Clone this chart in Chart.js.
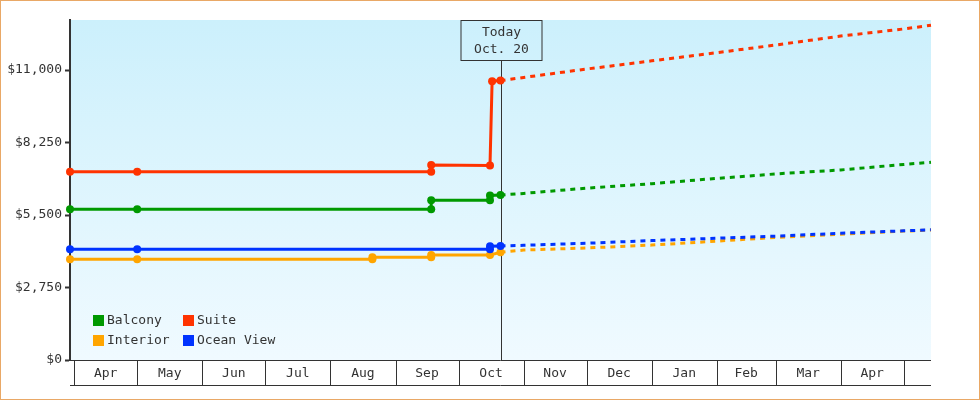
<!DOCTYPE html>
<html><head><meta charset="utf-8">
<script src="https://cdn.jsdelivr.net/npm/chart.js@4.4.1/dist/chart.umd.min.js"></script>
<style>
html,body{margin:0;padding:0;background:#fff;}
#wrap{width:980px;height:400px;box-sizing:border-box;border:1px solid #e9a866;background:#fff;}
canvas{display:block;}
</style></head><body>
<div id="wrap"><canvas id="c" width="978" height="398"></canvas></div>
<script>
// ---- Data (x = day number, day 0 = Apr 1) ----
const MONTH_LABELS = ["Apr","May","Jun","Jul","Aug","Sep","Oct","Nov","Dec","Jan","Feb","Mar","Apr"];
const MONTH_START_DAYS = [0,30,61,91,122,153,183,214,244,275,306,334,365,395];
const X_MIN = -2, X_MAX = 408;
const TODAY_DAY = 203;
const TODAY_LABEL = ["Today","Oct. 20"];
const Y_MAX = 12900;
const Y_TICKS = [0, 2750, 5500, 8250, 11000];
const Y_TICK_LABELS = ["$0","$2,750","$5,500","$8,250","$11,000"];

const SERIES_NAMES = ["Balcony","Suite","Interior","Ocean View"];

const balconyDays   = [-2, 30, 170, 170, 198, 198, 203, 214, 244, 275, 306, 334, 365, 395, 408];
const balconyValues = [5720, 5720, 5720, 6060, 6060, 6240, 6260, 6320, 6520, 6690, 6890, 7060, 7210, 7420, 7500];

const suiteDays     = [-2, 30, 170, 170, 198, 199, 203, 214, 244, 275, 306, 334, 365, 395, 408];
const suiteValues   = [7140, 7140, 7140, 7400, 7380, 10580, 10600, 10720, 11040, 11350, 11660, 11950, 12290, 12560, 12700];

const interiorDays   = [-2, 30, 142, 142, 170, 170, 198, 203, 214, 244, 275, 306, 334, 365, 395, 408];
const interiorValues = [3820, 3820, 3820, 3900, 3900, 3980, 3980, 4090, 4170, 4250, 4360, 4510, 4650, 4770, 4890, 4930];

const oceanDays   = [-2, 30, 198, 198, 203, 214, 244, 275, 306, 334, 365, 395, 408];
const oceanValues = [4200, 4200, 4200, 4320, 4330, 4350, 4430, 4530, 4620, 4700, 4810, 4900, 4940];

const COLORS = { balcony:'#009900', suite:'#ff3300', interior:'#ffa500', ocean:'#0033ff' };

// ---- Chart ----
const FONT = '"DejaVu Sans Mono", monospace';
Chart.defaults.font.family = FONT;
Chart.defaults.font.size = 13;
Chart.defaults.color = '#333';

function toPoints(days, vals){ return days.map((d,i)=>({x:d, y:vals[i]})); }
function series(label, days, vals, color, order){
  return {
    label, data: toPoints(days, vals), order,
    borderColor: color, backgroundColor: color, borderWidth: 3,
    pointRadius: ctx => (ctx.raw && ctx.raw.x <= TODAY_DAY) ? 4 : 0,
    pointHoverRadius: 0, pointBorderWidth: 0, pointBackgroundColor: color,
    tension: 0, fill: false, clip: false,
    segment: { borderDash: ctx => ctx.p0.parsed.x >= TODAY_DAY ? [5,5] : undefined }
  };
}

const bgPlugin = {
  id: 'bg',
  beforeDraw(chart){
    const {ctx, chartArea:a} = chart;
    const g = ctx.createLinearGradient(0, a.top, 0, a.bottom);
    g.addColorStop(0, '#ccf0fc');
    g.addColorStop(1, '#f0faff');
    ctx.save(); ctx.fillStyle = g;
    ctx.fillRect(a.left, a.top, a.right - a.left, a.bottom - a.top);
    ctx.restore();
  },
  beforeDatasetsDraw(chart){
    const {ctx, chartArea:a} = chart;
    const x = Math.round(chart.scales.x.getPixelForValue(TODAY_DAY)) + 0.5;
    const bw = 81, bh = 40;
    ctx.save();
    ctx.strokeStyle = '#333'; ctx.lineWidth = 1;
    ctx.beginPath(); ctx.moveTo(x, a.top + bh); ctx.lineTo(x, a.bottom); ctx.stroke();
    ctx.strokeRect(Math.round(x - bw/2), a.top + 0.5, bw, bh);
    ctx.fillStyle = '#333'; ctx.font = '13px ' + FONT;
    ctx.textAlign = 'center'; ctx.textBaseline = 'middle';
    ctx.fillText(TODAY_LABEL[0], x, a.top + 12.5);
    ctx.fillText(TODAY_LABEL[1], x, a.top + 30);
    ctx.restore();
  },
  afterDraw(chart){
    const {ctx, chartArea:a} = chart;
    const xs = chart.scales.x;
    ctx.save();
    ctx.strokeStyle = '#333'; ctx.lineWidth = 1;
    const top = a.bottom + 0.5, bot = a.bottom + 25.5;
    ctx.beginPath();
    ctx.moveTo(a.left, top); ctx.lineTo(a.right, top);
    ctx.moveTo(a.left, bot); ctx.lineTo(a.right, bot);
    MONTH_START_DAYS.forEach(d => {
      const px = Math.round(xs.getPixelForValue(d)) + 0.5;
      ctx.moveTo(px, top); ctx.lineTo(px, bot);
    });
    ctx.stroke();
    ctx.fillStyle = '#333'; ctx.font = '13px ' + FONT;
    ctx.textAlign = 'center'; ctx.textBaseline = 'middle';
    MONTH_LABELS.forEach((m, i) => {
      const c = (xs.getPixelForValue(MONTH_START_DAYS[i]) + xs.getPixelForValue(MONTH_START_DAYS[i+1])) / 2;
      ctx.fillText(m, c, a.bottom + 14);
    });
    // legend inside chart area
    const ds = chart.data.datasets;
    [0,1,2,3].forEach((di, k) => {
      const col = k % 2, row = Math.floor(k / 2);
      const bx = a.left + 23 + col * 90;
      const by = a.bottom - 45 + row * 20;
      ctx.fillStyle = ds[di].borderColor;
      ctx.fillRect(bx, by, 11, 11);
      ctx.fillStyle = '#333'; ctx.textAlign = 'left';
      ctx.fillText(ds[di].label, bx + 14, by + 6);
    });
    ctx.restore();
  }
};

new Chart(document.getElementById('c'), {
  type: 'line',
  data: {
    datasets: [
      series(SERIES_NAMES[0], balconyDays, balconyValues, COLORS.balcony, 2),
      series(SERIES_NAMES[1], suiteDays, suiteValues, COLORS.suite, 1),
      series(SERIES_NAMES[2], interiorDays, interiorValues, COLORS.interior, 3),
      series(SERIES_NAMES[3], oceanDays, oceanValues, COLORS.ocean, 0)
    ]
  },
  options: {
    responsive: false, animation: false, events: [],
    layout: { padding: { top: 19, right: 48, bottom: 13, left: 0 } },
    plugins: { legend: { display: false }, tooltip: { enabled: false } },
    scales: {
      x: { type: 'linear', min: X_MIN, max: X_MAX,
           ticks: { display: false }, grid: { display: false }, border: { display: false },
           afterFit: s => { s.height = 26; } },
      y: { min: 0, max: Y_MAX,
           afterBuildTicks: s => { s.ticks = Y_TICKS.map(v => ({ value: v })); },
           ticks: { callback: (v, i) => Y_TICK_LABELS[i], color: '#333', padding: 3, font: { size: 13, family: FONT } },
           grid: { drawOnChartArea: false, drawTicks: true, tickLength: 5, tickWidth: 2, tickColor: '#333' },
           border: { display: true, color: '#333', width: 2 },
           afterFit: s => { s.width = 69; } }
    }
  },
  plugins: [bgPlugin]
});
</script>
</body></html>
